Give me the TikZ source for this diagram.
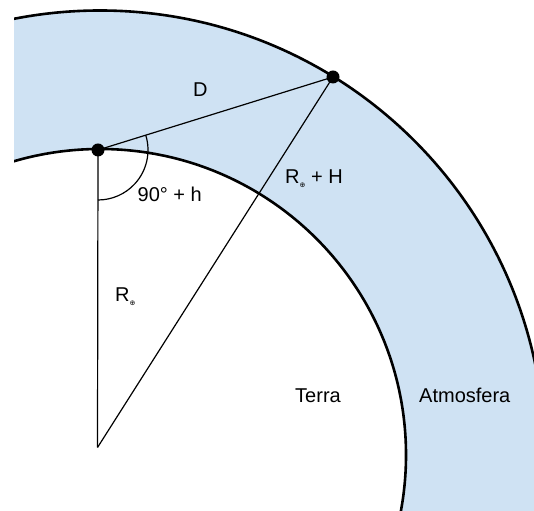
\documentclass[tikz,border=0pt]{standalone}
\usepackage{fontspec}
\setmainfont{Liberation Sans}
\newfontfamily\symfont{DejaVu Sans}
\definecolor{atmo}{HTML}{CFE2F3}
\newcommand{\earthsub}{\raisebox{-4pt}{\symfont\fontsize{7}{7}\selectfont ⊕}}
\tikzset{
  x=1pt, y=1pt,
  ring/.style={line width=2.6pt, black},
  thin/.style={line width=1.2pt, black},
  dotnode/.style={circle, fill=black, inner sep=0pt, minimum size=13pt},
  lbl/.style={font=\fontsize{20}{24}\selectfont, inner sep=0pt, anchor=base west}
}
\begin{document}
\begin{tikzpicture}
\useasboundingbox (0,0) rectangle (534,510);
\coordinate (C) at (100,55);
\begin{scope}
  \clip (14,0) rectangle (534,510);
  \fill[atmo, even odd rule] (C) circle[radius=444.5pt] (C) circle[radius=306pt];
  \draw[ring] (C) circle[radius=444.5pt];
  \draw[ring] (C) circle[radius=306pt];
\end{scope}
\coordinate (O) at (97.5,62.5);
\node[dotnode] (A) at (98,360) {};
\node[dotnode] (B) at (333,433) {};
\draw[thin] (A.center) -- (B.center);
\draw[thin] (A.center) -- (O);
\draw[thin] (O) -- (B.center);
\draw[thin] ([shift={(17.26:50pt)}]A.center) arc[start angle=17.26, end angle=-90, radius=50pt];
\node[lbl] (d) at (193,413) {D};
\node[lbl] (ang) at (137.5,308.5) {90° + h};
\node[lbl] (rh) at (285,326) {R\earthsub\ + H};
\node[lbl] (r) at (115,208) {R\earthsub};
\node[lbl] (terra) at (295,107.7) {Terra};
\node[lbl] (atm) at (419,107.7) {Atmosfera};
\end{tikzpicture}
\end{document}
